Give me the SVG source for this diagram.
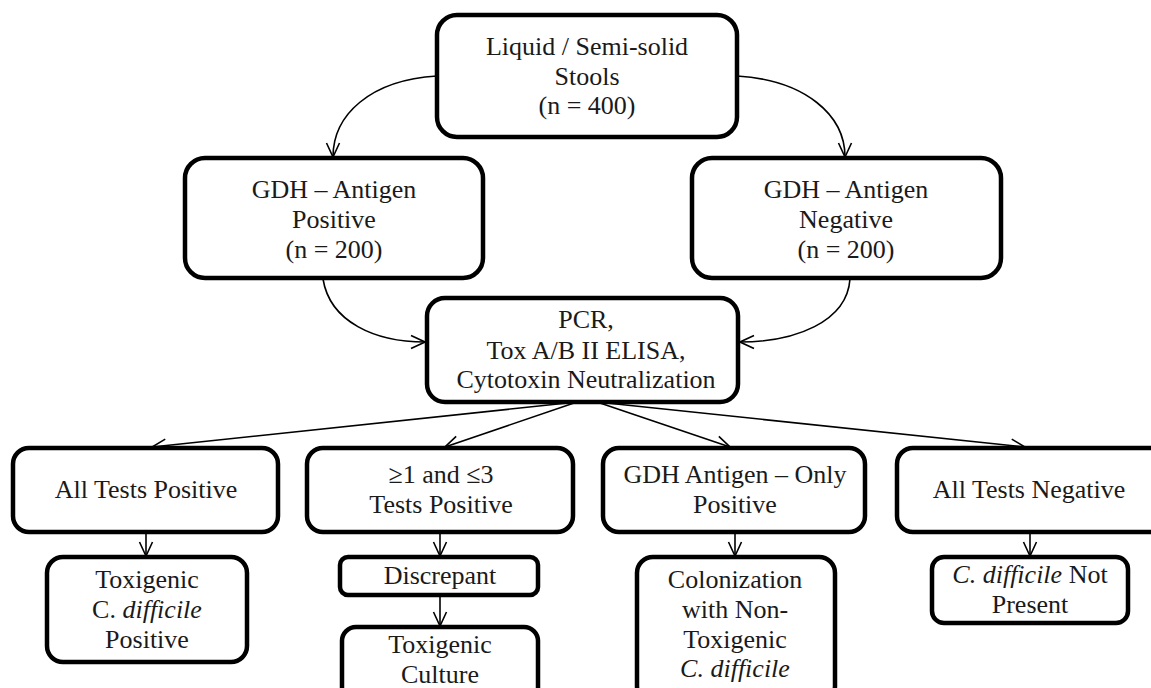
<svg xmlns="http://www.w3.org/2000/svg" width="1151" height="688" viewBox="0 0 1151 688">
<defs>
<marker id="arr" viewBox="0 0 16 16" refX="15" refY="8" markerWidth="16" markerHeight="16" markerUnits="userSpaceOnUse" orient="auto">
<path d="M1,1.5 L15,8 L1,14.5" fill="none" stroke="#000" stroke-width="1.6"/>
</marker>
<style>
.box{fill:#fff;stroke:#000;stroke-width:4.5}
.t{font-family:"Liberation Serif","Times New Roman",serif;font-size:26px;fill:#1a1a1a;text-anchor:middle}
.i{font-style:italic}
.c{fill:none;stroke:#000;stroke-width:1.6;marker-end:url(#arr)}
</style>
</defs>
<rect width="1151" height="688" fill="#fff"/>
<g id="connectors">
<path class="c" d="M437,76 C370,80 333,115 333,157"/>
<path class="c" d="M737,76 C805,80 845,115 845,157"/>
<path class="c" d="M323,279 C330,322 375,342 425,342"/>
<path class="c" d="M850,279 C847,322 795,342 740,342"/>
<path class="c" d="M577,402 L152,447"/>
<path class="c" d="M577,402 L445,447"/>
<path class="c" d="M597,402 L730,447"/>
<path class="c" d="M597,402 L1025,447"/>
<path class="c" d="M146,532 L146,556"/>
<path class="c" d="M440,532 L440,556"/>
<path class="c" d="M440,595 L440,626"/>
<path class="c" d="M735,532 L735,556"/>
<path class="c" d="M1030,532 L1030,556"/>
</g>
<g id="stools">
<rect class="box" x="437" y="15" width="300" height="122" rx="20"/>
<text class="t" x="587" y="55">Liquid / Semi-solid</text>
<text class="t" x="587" y="85">Stools</text>
<text class="t" x="587" y="114">(n = 400)</text>
</g>
<g id="gdh-pos">
<rect class="box" x="185" y="158" width="298" height="120" rx="20"/>
<text class="t" x="334" y="198">GDH – Antigen</text>
<text class="t" x="334" y="228">Positive</text>
<text class="t" x="334" y="258">(n = 200)</text>
</g>
<g id="gdh-neg">
<rect class="box" x="692" y="158" width="309" height="120" rx="20"/>
<text class="t" x="846" y="198">GDH – Antigen</text>
<text class="t" x="846" y="228">Negative</text>
<text class="t" x="846" y="258">(n = 200)</text>
</g>
<g id="tests">
<rect class="box" x="427" y="298" width="311" height="104" rx="18"/>
<text class="t" x="586" y="328">PCR,</text>
<text class="t" x="586" y="359">Tox A/B II ELISA,</text>
<text class="t" x="586" y="388">Cytotoxin Neutralization</text>
</g>
<g id="all-pos">
<rect class="box" x="13" y="448" width="265" height="84" rx="16"/>
<text class="t" x="146" y="498">All Tests Positive</text>
</g>
<g id="toxigenic-pos">
<rect class="box" x="47" y="557" width="200" height="105" rx="16"/>
<text class="t" x="147" y="588">Toxigenic</text>
<text class="t" x="147" y="618">C. <tspan class="i">difficile</tspan></text>
<text class="t" x="147" y="648">Positive</text>
</g>
<g id="some-pos">
<rect class="box" x="307" y="448" width="266" height="84" rx="16"/>
<text class="t" x="441" y="483">≥1 and ≤3</text>
<text class="t" x="441" y="513">Tests Positive</text>
</g>
<g id="discrepant">
<rect class="box" x="340" y="557" width="198" height="38" rx="8"/>
<text class="t" x="440" y="584">Discrepant</text>
</g>
<g id="culture">
<rect class="box" x="342" y="627" width="196" height="80" rx="14"/>
<text class="t" x="440" y="653">Toxigenic</text>
<text class="t" x="440" y="683">Culture</text>
</g>
<g id="gdh-only">
<rect class="box" x="603" y="448" width="262" height="84" rx="16"/>
<text class="t" x="735" y="483">GDH Antigen – Only</text>
<text class="t" x="735" y="513">Positive</text>
</g>
<g id="colonization">
<rect class="box" x="637" y="557" width="198" height="145" rx="16"/>
<text class="t" x="735" y="588">Colonization</text>
<text class="t" x="735" y="618">with Non-</text>
<text class="t" x="735" y="648">Toxigenic</text>
<text class="t i" x="735" y="677">C. difficile</text>
</g>
<g id="all-neg">
<rect class="box" x="897" y="448" width="270" height="84" rx="16"/>
<text class="t" x="1029" y="498">All Tests Negative</text>
</g>
<g id="not-present">
<rect class="box" x="932" y="557" width="196" height="66" rx="12"/>
<text class="t" x="1030" y="583"><tspan class="i">C. difficile</tspan> Not</text>
<text class="t" x="1030" y="613">Present</text>
</g>
</svg>
